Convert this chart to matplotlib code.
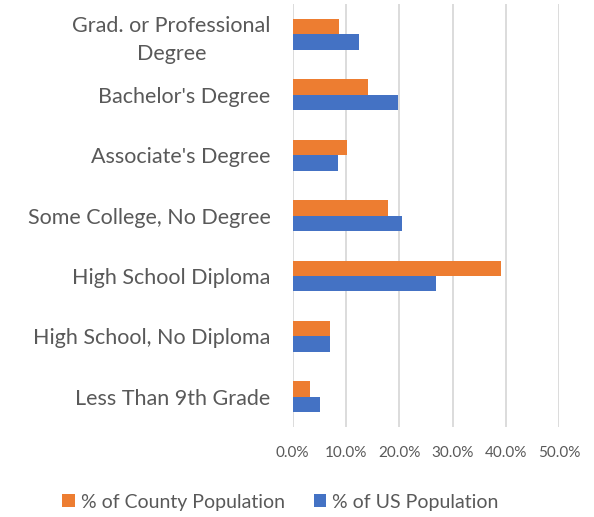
import matplotlib
matplotlib.use("Agg")
import matplotlib.pyplot as plt
import numpy as np

# Data (bottom to top)
categories = [
    "Less Than 9th Grade",
    "High School, No Diploma",
    "High School Diploma",
    "Some College, No Degree",
    "Associate's Degree",
    "Bachelor's Degree",
    "Grad. or Professional\nDegree",
]
county_pct = [3.2, 7.0, 39.0, 17.9, 10.1, 14.1, 8.7]
us_pct     = [5.1, 6.9, 26.9, 20.4, 8.5, 19.8, 12.4]
x_ticks = [0, 10, 20, 30, 40, 50]

ORANGE = "#ED7D31"
BLUE   = "#4472C4"
TEXT   = "#595959"
GRID   = "#D9D9D9"

plt.rcParams["font.family"] = ["Lato", "DejaVu Sans"]

fig = plt.figure(figsize=(5.94, 5.17), dpi=100)
ax = fig.add_axes([0.4928, 0.174, 0.449, 0.818])

y = np.arange(len(categories))
h = 0.256
ax.barh(y + h / 2, county_pct, height=h, color=ORANGE, label="% of County Population", zorder=3)
ax.barh(y - h / 2, us_pct, height=h, color=BLUE, label="% of US Population", zorder=3)

ax.set_xlim(0, 50)
ax.set_ylim(-0.5, len(categories) - 0.5)
ax.set_xticks(x_ticks)
ax.set_xticklabels([f"{t:.1f}%" for t in x_ticks], color=TEXT, fontsize=11)
ax.set_yticks(y)
ax.set_yticklabels(categories, color=TEXT, fontsize=15.5, ha="right",
                   multialignment="center", linespacing=1.45)
ax.tick_params(axis="both", length=0)
ax.tick_params(axis="x", pad=14)
ax.tick_params(axis="y", pad=16)
ax.xaxis.grid(True, color=GRID, linewidth=1.3, zorder=0)
for s in ax.spines.values():
    s.set_visible(False)

handles, labels = ax.get_legend_handles_labels()
fig.legend(handles, labels, loc="center", bbox_to_anchor=(0.472, 0.029), ncol=2,
           frameon=False, fontsize=14, labelcolor=TEXT, handlelength=0.65,
           handleheight=0.65, handletextpad=0.3, columnspacing=1.5)

fig.savefig("out.png", dpi=100)
